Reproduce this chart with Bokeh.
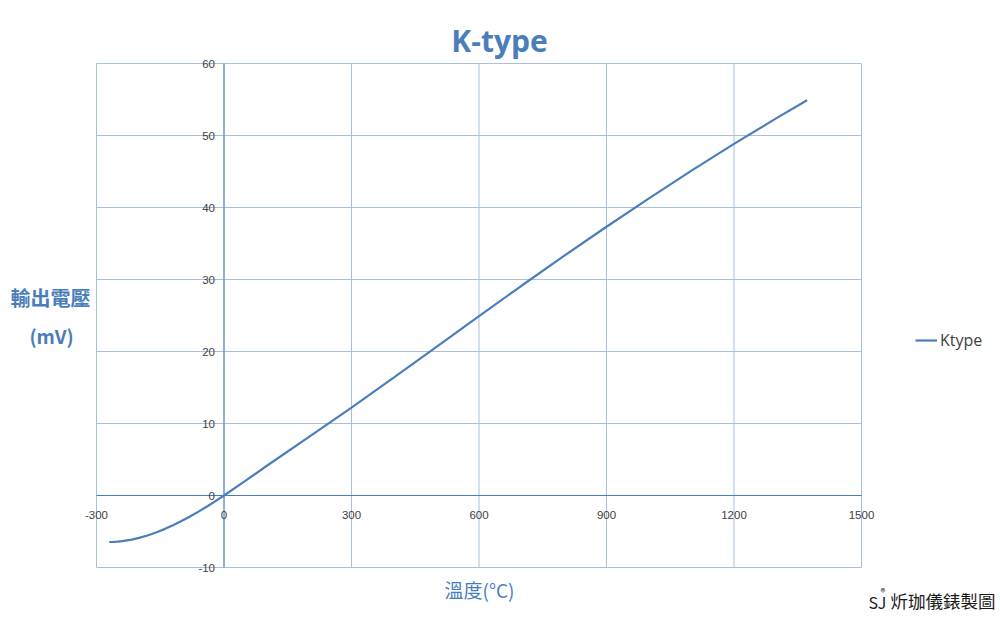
from bokeh.plotting import figure
from bokeh.models import (Range1d, Label, LabelSet, Legend, LegendItem,
                          ColumnDataSource)
from bokeh.core.properties import value
from bokeh.embed import file_html
from bokeh.resources import INLINE

# Data (K-type thermocouple output)
temp_c = [-270, -260, -250, -240, -220, -200, -180, -160, -140, -120, -100,
          -80, -60, -40, -20, 0, 50, 100, 200, 300, 400, 500,
          600, 700, 800, 900, 1000, 1100, 1200, 1300, 1372]
emf_mv = [-6.458, -6.441, -6.404, -6.344, -6.158, -5.891, -5.550, -5.141,
          -4.669, -4.138, -3.554, -2.920, -2.243, -1.527, -0.778, 0.0, 2.023,
          4.096, 8.138, 12.209, 16.397, 20.644, 24.905, 29.129, 33.275,
          37.326, 41.276, 45.119, 48.838, 52.410, 54.886]
x_ticks = [-300, 0, 300, 600, 900, 1200, 1500]
y_ticks = [-10, 0, 10, 20, 30, 40, 50, 60]
title_text = "K-type"
x_label = "溫度(°C)"
y_label_1 = "輸出電壓"
y_label_2 = "(mV)"
series_name = "Ktype"
credit_a = "SJ"
credit_r = "®"
credit_b = "炘珈儀錶製圖"

BLUE = "#4a7ebb"
GRID = "#a9bfdc"
TXT = "#404040"

# canvas and plot-box pixel layout
W, H = 995, 615
PL, PR, PT, PB = 96, 861, 63, 567
xmin, xmax = x_ticks[0], x_ticks[-1]
ymin, ymax = y_ticks[0], y_ticks[-1]
sx = (PR - PL) / (xmax - xmin)
sy = (PB - PT) / (ymax - ymin)
x_rng = Range1d(xmin - PL / sx, xmax + (W - PR) / sx)
y_rng = Range1d(ymin - (H - PB) / sy, ymax + PT / sy)

p = figure(width=W, height=H, output_backend="svg", toolbar_location=None,
           x_range=x_rng, y_range=y_rng, x_axis_type=None, y_axis_type=None,
           min_border=0)
p.background_fill_color = "white"
p.border_fill_color = "white"
p.outline_line_color = None
p.xgrid.visible = False
p.ygrid.visible = False

# grid (plot box included) drawn from the tick arrays
p.segment(x0=x_ticks, y0=[ymin] * len(x_ticks), x1=x_ticks, y1=[ymax] * len(x_ticks),
          line_color=GRID, line_width=1)
p.segment(x0=[xmin] * len(y_ticks), y0=y_ticks, x1=[xmax] * len(y_ticks), y1=y_ticks,
          line_color=GRID, line_width=1)
# zero axes
p.segment(x0=[0, xmin], y0=[ymin, 0], x1=[0, xmax], y1=[ymax, 0],
          line_color=BLUE, line_width=1)

# tick labels
xsrc = ColumnDataSource(dict(x=x_ticks, y=[0] * len(x_ticks),
                             t=[str(v) for v in x_ticks]))
ysrc = ColumnDataSource(dict(x=[0] * len(y_ticks), y=y_ticks,
                             t=[str(v) for v in y_ticks]))
p.add_layout(LabelSet(x="x", y="y", text="t", source=xsrc, y_offset=-19,
                      text_align="center", text_baseline="middle",
                      text_font=value("Liberation Sans"), text_font_size=value("11.5px"),
                      text_color=TXT))
p.add_layout(LabelSet(x="x", y="y", text="t", source=ysrc, x_offset=-9,
                      text_align="right", text_baseline="middle",
                      text_font=value("Liberation Sans"), text_font_size=value("11.5px"),
                      text_color=TXT))

r = p.line(temp_c, emf_mv, line_color=BLUE, line_width=2.2)

legend = Legend(items=[LegendItem(label=series_name, renderers=[r])],
                location=(915, H - 351), border_line_color=None,
                background_fill_alpha=0, padding=0, margin=0,
                glyph_width=22, glyph_height=20, label_height=20,
                label_standoff=3, spacing=0,
                label_text_font="Open Sans", label_text_font_size="16px",
                label_text_color=TXT)
p.add_layout(legend, "center")

# texts in canvas pixels (origin bottom-left)
def lab(text, x, y, size, color, font, style="normal", align="center", base="middle"):
    p.add_layout(Label(x=x, y=H - y, x_units="screen", y_units="screen", text=text,
                       text_font=font, text_font_size=size, text_color=color,
                       text_font_style=style, text_align=align, text_baseline=base))

lab(title_text, 499, 40, "30px", BLUE, "Open Sans", "bold")
lab(x_label, 479, 589, "19px", BLUE, "Noto Sans CJK TC")
lab(y_label_1, 50, 297, "20px", BLUE, "Noto Sans CJK TC", "bold")
lab(y_label_2, 51, 335, "19px", BLUE, "Noto Sans CJK TC", "bold")
lab(credit_a, 868, 601, "16px", "#1a1a1a", "Noto Sans CJK TC", align="left")
lab(credit_r, 880, 591, "10px", "#1a1a1a", "Noto Sans CJK TC", align="left")
lab(credit_b, 890, 600, "17.5px", "#1a1a1a", "Noto Sans CJK TC", align="left")

open("out.html", "w").write(file_html(p, INLINE))
